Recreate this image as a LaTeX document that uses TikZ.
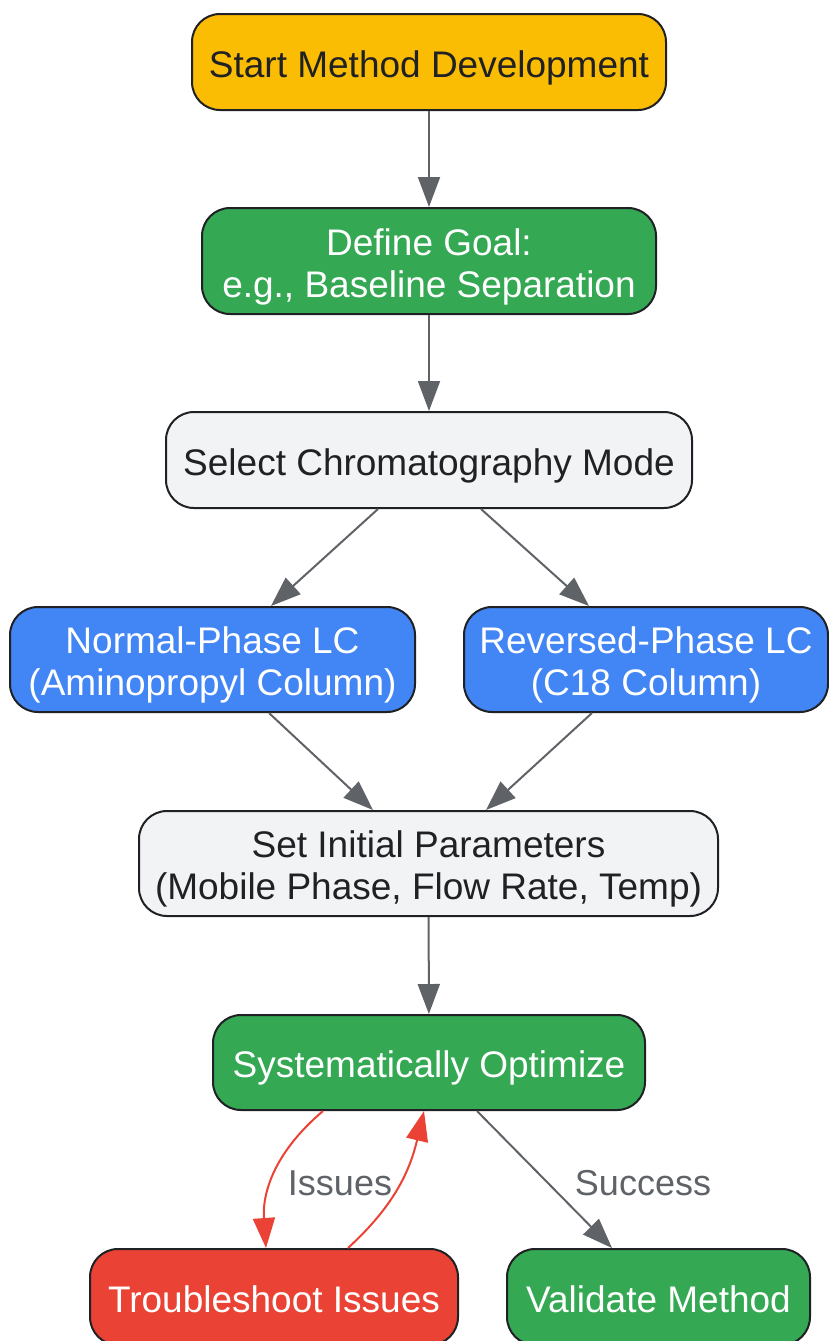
\documentclass[tikz,border=0pt]{standalone}
\usepackage{fontspec}
\setmainfont{Liberation Sans}
\usetikzlibrary{arrows.meta}
\definecolor{cyellow}{HTML}{FBBC04}
\definecolor{cgreen}{HTML}{34A853}
\definecolor{cgrey}{HTML}{F1F3F4}
\definecolor{cblue}{HTML}{4285F4}
\definecolor{cred}{HTML}{EA4335}
\definecolor{cline}{HTML}{5F6368}
\definecolor{cborder}{HTML}{202124}
\newcommand{\lowtext}[1]{\raisebox{-7pt}[\height][\depth]{\begin{tabular}{@{}c@{}}#1\end{tabular}}}
\begin{document}
\begin{tikzpicture}[x=1pt,y=-1pt,
  box/.style={draw=cborder,line width=2pt,rounded corners=28pt,align=center,
    inner sep=0pt,font=\fontsize{37}{42}\selectfont,text=cborder},
  wtext/.style={text=white},
  conn/.style={draw=cline,line width=2pt,-{Triangle[length=30pt,width=22pt]}},
  redconn/.style={draw=cred,line width=2pt,-{Triangle[length=30pt,width=22pt]}},
  lbl/.style={font=\fontsize{36}{42}\selectfont,text=cline}
]
\useasboundingbox (0,0) rectangle (829,1341);
\node[box,fill=cyellow,minimum width=474pt,minimum height=96pt] (start) at (429,62) {\lowtext{Start Method Development}};
\node[box,fill=cgreen,wtext,minimum width=454pt,minimum height=106pt] (goal) at (429,261) {\lowtext{Define Goal:\\ e.g., Baseline Separation}};
\node[box,fill=cgrey,minimum width=526pt,minimum height=96pt] (mode) at (429,460) {\lowtext{Select Chromatography Mode}};
\node[box,fill=cblue,wtext,minimum width=405pt,minimum height=105pt] (normal) at (212.5,659.5) {\lowtext{Normal-Phase LC\\(Aminopropyl Column)}};
\node[box,fill=cblue,wtext,minimum width=364pt,minimum height=105pt] (rev) at (646,659.5) {\lowtext{Reversed-Phase LC\\(C18 Column)}};
\node[box,fill=cgrey,minimum width=579pt,minimum height=105pt] (params) at (428.5,863.5) {\lowtext{Set Initial Parameters\\(Mobile Phase, Flow Rate, Temp)}};
\node[box,fill=cgreen,wtext,minimum width=432pt,minimum height=95pt] (opt) at (429,1062.5) {\lowtext{Systematically Optimize}};
\node[box,fill=cred,wtext,minimum width=368pt,minimum height=96pt] (trouble) at (274,1297) {\lowtext{Troubleshoot Issues}};
\node[box,fill=cgreen,wtext,minimum width=303pt,minimum height=96pt] (valid) at (658.5,1297) {\lowtext{Validate Method}};

\draw[conn] (start) -- (goal);
\draw[conn] (goal) -- (mode);
\draw[conn] (mode.south -| 378,0) -- (271,606);
\draw[conn] (mode.south -| 481,0) -- (589,606);
\draw[conn] (normal.south -| 269,0) -- (373,810);
\draw[conn] (rev.south -| 592,0) -- (486,810);
\draw[conn] (params) -- (opt);
\draw[redconn] (opt.south -| 323,0) .. controls (277,1150) and (262,1190) .. (266,1248);
\draw[redconn] (trouble.north -| 348,0) .. controls (395,1205) and (410,1170) .. (424,1111);
\draw[conn] (opt.south -| 477,0) -- (612,1248);
\node[lbl] (lissues) at (340,1183) {Issues};
\node[lbl] (lsuccess) at (643,1183) {Success};
\end{tikzpicture}
\end{document}
